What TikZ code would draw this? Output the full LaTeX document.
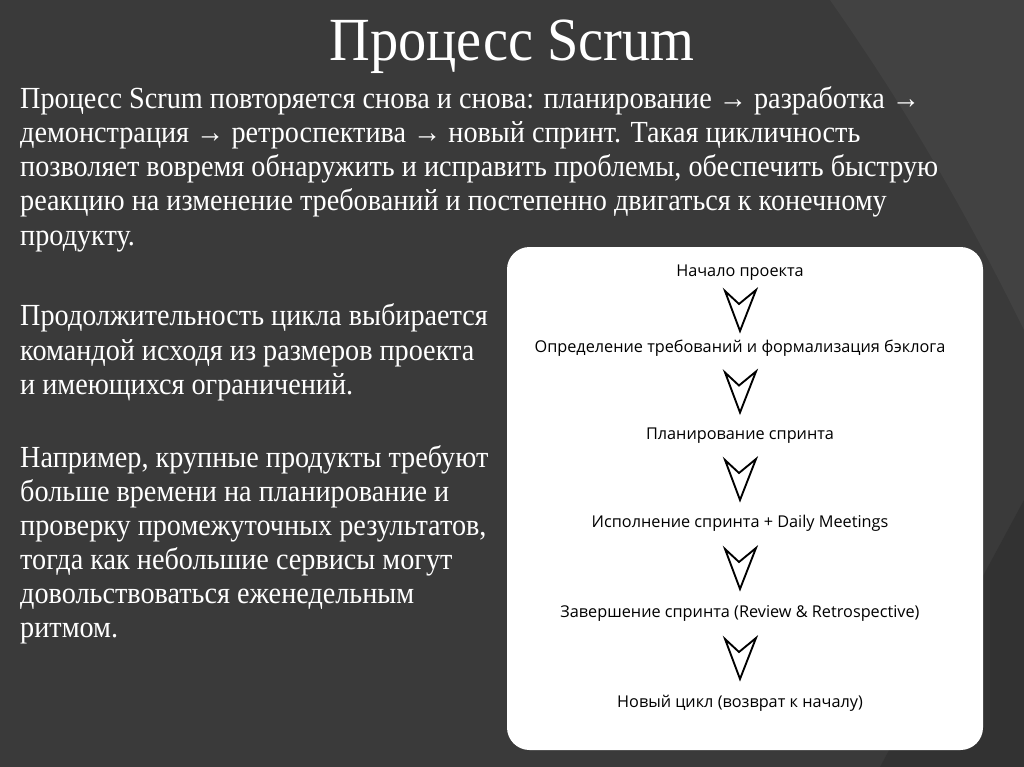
\documentclass[tikz,border=0pt]{standalone}
\usepackage{fontspec}
\setmainfont{Liberation Serif}
\newfontfamily\diagfont{Open Sans}
\usetikzlibrary{calc}
\begin{document}
\begin{tikzpicture}[x=0.75pt,y=-0.75pt,
  bodytxt/.style={anchor=west,inner sep=0pt,text height=16pt,text depth=5pt,font=\fontsize{23}{26}\selectfont,text=white,xscale=0.92},
  steptxt/.style={inner sep=1pt,text height=9pt,text depth=3pt,font=\diagfont\fontsize{12.2}{14}\selectfont,text=black},
  chevron/.style={draw=black,line width=1.4pt,line join=miter,fill=white}]
\useasboundingbox (0,0) rectangle (1024,767);
\fill[fill={rgb,255:red,58;green,58;blue,58}] (0,0) rectangle (1024,767);
\fill[fill={rgb,255:red,66;green,66;blue,66}] (830,0) .. controls (900,100) and (960,200) .. (1024,330) -- (1024,0) -- cycle;
\fill[fill={rgb,255:red,50;green,50;blue,50}] (1024,500) -- (880,767) -- (1024,767) -- cycle;
\node[font=\fontsize{46}{50}\selectfont,text=white,xscale=0.92] (title) at (512,47) {Процесс Scrum};
\node[bodytxt] (p1) at (20,101) {Процесс Scrum повторяется снова и снова: планирование → разработка →};
\node[bodytxt] (p2) at (20,135) {демонстрация → ретроспектива → новый спринт. Такая цикличность};
\node[bodytxt] (p3) at (20,169) {позволяет вовремя обнаружить и исправить проблемы, обеспечить быструю};
\node[bodytxt] (p4) at (20,203) {реакцию на изменение требований и постепенно двигаться к конечному};
\node[bodytxt] (p5) at (20,238) {продукту.};
\node[bodytxt] (q1) at (20,318) {Продолжительность цикла выбирается};
\node[bodytxt] (q2) at (20,353) {командой исходя из размеров проекта};
\node[bodytxt] (q3) at (20,387) {и имеющихся ограничений.};
\node[bodytxt] (r1) at (20,460) {Например, крупные продукты требуют};
\node[bodytxt] (r2) at (20,494) {больше времени на планирование и};
\node[bodytxt] (r3) at (20,528) {проверку промежуточных результатов,};
\node[bodytxt] (r4) at (20,562) {тогда как небольшие сервисы могут};
\node[bodytxt] (r5) at (20,596) {довольствоваться еженедельным};
\node[bodytxt] (r6) at (20,630) {ритмом.};
\fill[white,rounded corners=22.5pt*0.75] (507,247) rectangle (983,750);
\node[steptxt] (s1) at (740,272) {Начало проекта};
\node[steptxt] (s2) at (740,348) {Определение требований и формализация бэклога};
\node[steptxt] (s3) at (740,435) {Планирование спринта};
\node[steptxt] (s4) at (740,523) {Исполнение спринта + Daily Meetings};
\node[steptxt] (s5) at (740,613) {Завершение спринта (Review \& Retrospective)};
\node[steptxt] (s6) at (740,703) {Новый цикл (возврат к началу)};
\foreach \a/\b in {s1/s2,s2/s3,s3/s4,s4/s5,s5/s6}{
  \coordinate (m) at ($(\a.south)!0.5!(\b.north)$);
  \draw[chevron] ($(m)+(-15,-19)$) -- ($(m)+(-1,-6)$) -- ($(m)+(16,-20)$) -- ($(m)+(0,21)$) -- cycle;
}
\end{tikzpicture}
\end{document}
